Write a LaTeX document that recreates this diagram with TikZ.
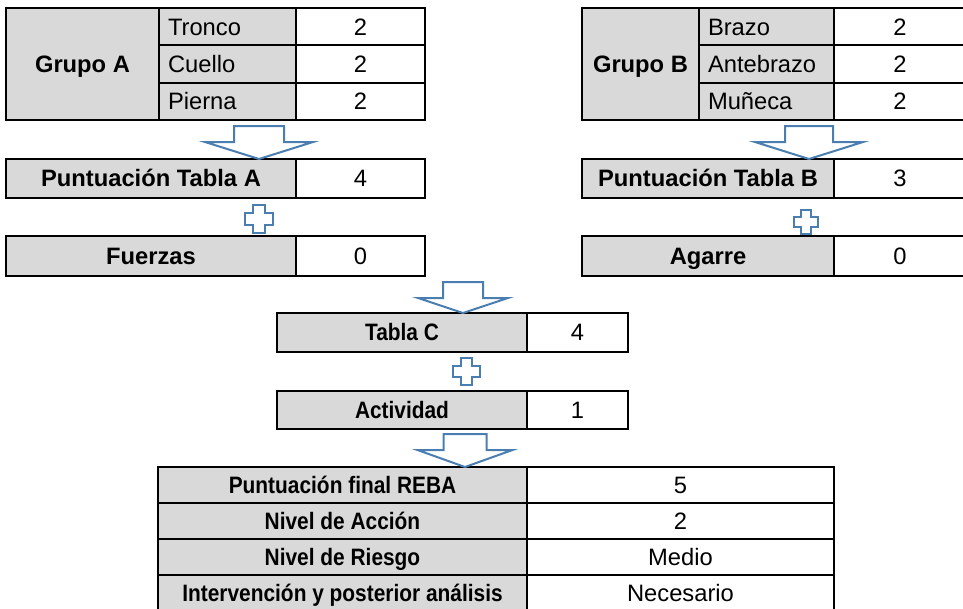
\documentclass[tikz,border=0pt]{standalone}
\usepackage{fontspec}
\setmainfont{Liberation Sans}
\newfontfamily\narrowsans{Liberation Sans}[FakeStretch=0.88]
\usetikzlibrary{positioning,calc}
\definecolor{cellgray}{HTML}{D9D9D9}
\definecolor{arrblue}{HTML}{4A7EB0}
\newlength\pxu \setlength\pxu{0.75pt}
\newcommand\tabfont{\fontsize{17.8pt}{21pt}\selectfont}
% block arrow: tip, half shaft, half head, head length, total length
\newcommand\downblock[5]{%
  \draw[blk,shift={(#1)}] (0,0) -- (-#3,-#4) -- (-#2,-#4) -- (-#2,-#5) -- (#2,-#5) -- (#2,-#4) -- (#3,-#4) -- cycle;}
% plus sign: centre, half size, half arm
\newcommand\plusmark[3]{%
  \draw[blk,shift={(#1)}] (-#3,-#2) -- (#3,-#2) -- (#3,-#3) -- (#2,-#3) -- (#2,#3) -- (#3,#3) -- (#3,#2) -- (-#3,#2) -- (-#3,#3) -- (-#2,#3) -- (-#2,-#3) -- (-#3,-#3) -- cycle;}

\begin{document}
\begin{tikzpicture}[x=\pxu,y=-\pxu,
  c/.style={draw,line width=1.3pt,inner sep=0pt,outer sep=0pt,font=\tabfont,text height=12.7pt,text depth=0pt},
  lab/.style={c,fill=cellgray,font=\tabfont\bfseries},
  nlab/.style={c,fill=cellgray,font=\tabfont\narrowsans\bfseries},
  val/.style={c,fill=white},
  seg/.style={c,fill=cellgray,text width=#1,align=left,inner xsep=9\pxu,minimum height=37.33\pxu},
  cw/.style={minimum width=#1\pxu},
  ch/.style={minimum height=#1\pxu},
  frame/.style={draw,line width=2.1pt},
  blk/.style={draw=arrblue,line width=1.5pt,line join=miter}]
\useasboundingbox (0,0) rectangle (963,608);

% Grupo A
\node[lab,cw=153,ch=112,anchor=north west] (grpA) at (6,8) {Grupo A};
\node[seg=119\pxu,anchor=north west] (tronco) at (grpA.north east) {Tronco};
\node[seg=119\pxu,below=0pt of tronco] (cuello) {Cuello};
\node[seg=119\pxu,below=0pt of cuello] (pierna) {Pierna};
\node[val,cw=129,ch=37.33,right=0pt of tronco] (troncoV) {2};
\node[val,cw=129,ch=37.33,right=0pt of cuello] (cuelloV) {2};
\node[val,cw=129,ch=37.33,right=0pt of pierna] (piernaV) {2};
\draw[frame] (grpA.north west) rectangle (piernaV.south east);

\node[lab,cw=290,ch=39,anchor=north west] (ptA) at (6,159) {Puntuación Tabla A};
\node[val,cw=129,ch=39,right=0pt of ptA] (ptAV) {4};
\draw[frame] (ptA.north west) rectangle (ptAV.south east);

\node[lab,cw=290,ch=40,anchor=north west] (fuer) at (6,236) {Fuerzas};
\node[val,cw=129,ch=40,right=0pt of fuer] (fuerV) {0};
\draw[frame] (fuer.north west) rectangle (fuerV.south east);

% Grupo B
\node[lab,cw=117,ch=112,anchor=north west] (grpB) at (582,8) {Grupo B};
\node[seg=117\pxu,anchor=north west] (brazo) at (grpB.north east) {Brazo};
\node[seg=117\pxu,below=0pt of brazo] (antebr) {Antebrazo};
\node[seg=117\pxu,below=0pt of antebr] (muneca) {Muñeca};
\node[val,cw=132,ch=37.33,right=0pt of brazo] (brazoV) {2};
\node[val,cw=132,ch=37.33,right=0pt of antebr] (antebrV) {2};
\node[val,cw=132,ch=37.33,right=0pt of muneca] (munecaV) {2};
\draw[frame] (grpB.north west) rectangle (munecaV.south east);

\node[lab,cw=252,ch=39,anchor=north west] (ptB) at (582,159) {Puntuación Tabla B};
\node[val,cw=132,ch=39,right=0pt of ptB] (ptBV) {3};
\draw[frame] (ptB.north west) rectangle (ptBV.south east);

\node[lab,cw=252,ch=40,anchor=north west] (agar) at (582,236) {Agarre};
\node[val,cw=132,ch=40,right=0pt of agar] (agarV) {0};
\draw[frame] (agar.north west) rectangle (agarV.south east);

% centro
\node[nlab,cw=250,ch=39,anchor=north west] (tabC) at (277,313) {Tabla C};
\node[val,cw=101,ch=39,right=0pt of tabC] (tabCV) {4};
\draw[frame] (tabC.north west) rectangle (tabCV.south east);

\node[nlab,cw=250,ch=38,anchor=north west] (activ) at (277,391) {Actividad};
\node[val,cw=101,ch=38,right=0pt of activ] (activV) {1};
\draw[frame] (activ.north west) rectangle (activV.south east);

% resultado final
\node[nlab,cw=369,ch=36,anchor=north west] (fin) at (158,467) {Puntuación final REBA};
\node[nlab,cw=369,ch=36,below=0pt of fin] (accion) {Nivel de Acción};
\node[nlab,cw=369,ch=36,below=0pt of accion] (riesgo) {Nivel de Riesgo};
\node[nlab,cw=369,ch=36,below=0pt of riesgo] (interv) {Intervención y posterior análisis};
\node[val,cw=307,ch=36,right=0pt of fin] (finV) {5};
\node[val,cw=307,ch=36,right=0pt of accion] (accionV) {2};
\node[val,cw=307,ch=36,right=0pt of riesgo] (riesgoV) {Medio};
\node[val,cw=307,ch=36,right=0pt of interv] (intervV) {Necesario};
\draw[frame] (fin.north west) rectangle (intervV.south east);

% flechas y signos
\downblock{259,159}{25}{54}{17}{33}
\downblock{809,159}{24}{54}{17}{33}
\downblock{463,313}{20}{45}{15}{31}
\downblock{465,467}{21.5}{47.5}{17}{33}
\plusmark{259,219}{14}{6}
\plusmark{806,222}{12}{5}
\plusmark{466,371}{13.5}{5.5}
\end{tikzpicture}
\end{document}
